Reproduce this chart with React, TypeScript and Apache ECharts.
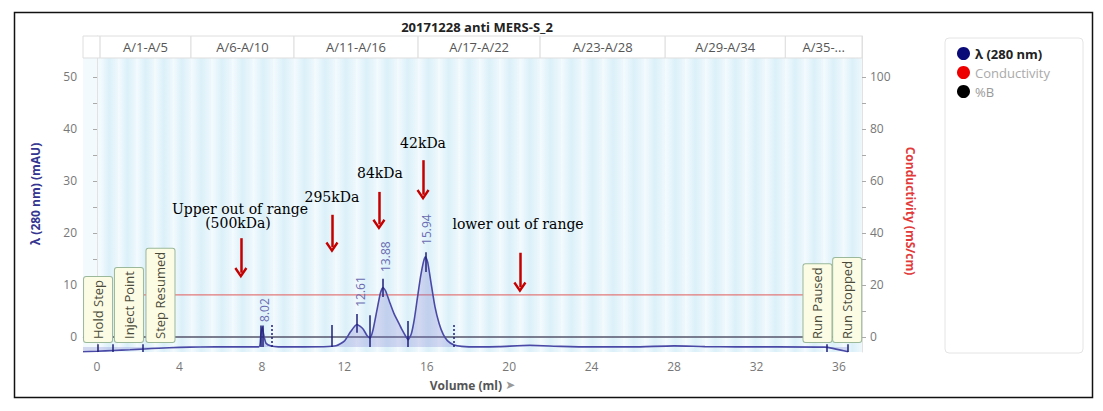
import React, { useEffect, useRef } from 'react';
import * as echarts from 'echarts';

// ---------- axis ticks / labels ----------
const xLabelValues = [0, 4, 8, 12, 16, 20, 24, 28, 32, 36];
const xTickValues = [0, 2, 4, 6, 8, 10, 12, 14, 16, 18, 20, 22, 24, 26, 28, 30, 32, 34, 36];
const uvLabelValues = [0, 10, 20, 30, 40, 50];
const uvTickValues = [0, 5, 10, 15, 20, 25, 30, 35, 40, 45, 50];
const condLabelValues = [0, 20, 40, 60, 80, 100];
const condTickValues = [0, 10, 20, 30, 40, 50, 60, 70, 80, 90, 100];

const X_MIN = -0.68;
const X_MAX = 37.12;
const UV_MIN = -2.885;
const UV_MAX = 57.88;
const COND_MIN = -5.77;
const COND_MAX = 115.76;

// ---------- series data ----------
const uvVolume = [
  -0.68, 0, 0.8, 1.6, 2.3, 3.0, 4.0, 5.0, 6.5, 7.85, 7.95, 8.02, 8.08, 8.2, 8.45, 8.8,
  10.0, 11.0, 11.6, 12.0, 12.3, 12.61, 12.9, 13.1, 13.25, 13.4, 13.6, 13.75, 13.88, 14.0,
  14.2, 14.4, 14.6, 14.8, 15.0, 15.1, 15.25, 15.4, 15.55, 15.7, 15.85, 15.94, 16.05, 16.2,
  16.4, 16.6, 16.8, 17.0, 17.3, 17.7, 18.5, 19.5, 21.0, 22.5, 24.0, 26.0, 28.0, 29.5,
  31.0, 33.0, 35.3, 36.45,
];
const uvValue = [
  -2.85, -2.75, -2.6, -2.45, -2.3, -2.15, -2.0, -1.92, -1.9, -1.9, 0.5, 1.9, 0.6, -1.2, -1.75, -1.9,
  -1.9, -1.88, -1.7, -0.8, 1.0, 2.4, 1.6, 0.3, -0.2, 1.5, 5.5, 8.4, 9.5, 8.9,
  6.7, 4.6, 3.0, 1.4, 0.0, -0.5, 0.6, 3.5, 7.6, 11.6, 14.6, 15.4, 14.3, 10.6,
  5.8, 2.6, 0.5, -0.7, -1.5, -1.8, -1.9, -1.85, -1.6, -1.8, -1.9, -1.9, -1.7, -1.85,
  -1.9, -1.9, -1.95, -2.85,
];
const conductivityVolume = [2.25, 35.4];
const conductivityValue = [16.2, 16.2];
const percentBVolume = [-0.68, 36.45];
const percentBValue = [0, 0];

// ---------- fractions ----------
const fractionGroupLabels = ['', 'A/1-A/5', 'A/6-A/10', 'A/11-A/16', 'A/17-A/22', 'A/23-A/28', 'A/29-A/34', 'A/35-...'];
const fractionGroupEdges = [-0.68, 0.15, 4.56, 9.56, 15.58, 21.5, 27.57, 33.4, 37.12];
const fractionsPerGroup = [0, 5, 5, 6, 6, 6, 6, 4];
const FRACTION_BAR_BOTTOM = 53.65;

// ---------- peaks ----------
const peakNames = ['8.02', '12.61', '13.88', '15.94'];
const peakLabelVolume = [8.15, 12.8, 13.98, 15.98];
const peakLabelBase = [2.9, 5.8, 12.5, 17.7];
const peakTickVolume = [12.61, 13.88, 15.94];
const peakTickLow = [0.8, 7.7, 12.5];
const peakTickHigh = [4.4, 11.2, 16.3];
const boundaryVolume = [7.95, 8.05, 11.4, 13.25, 15.1];
const boundaryTop = [2.2, 2.2, 2.3, 4.2, 3.1];
const dottedBoundaryVolume = [8.5, 17.33];
const dottedBoundaryTop = [2.5, 2.5];

// ---------- run events ----------
const eventNames = ['Hold Step', 'Inject Point', 'Step Resumed', 'Run Paused', 'Run Stopped'];
const eventVolume = [0.05, 0.78, 2.23, 35.4, 36.45];
const eventLabelVolume = [0.05, 1.55, 3.08, 34.96, 36.4];
const EVENT_LABEL_BASE = -0.96;

// ---------- red annotations ----------
const arrowVolume = [6.98, 11.4, 13.68, 15.82, 20.52];
const arrowTop = [19.0, 23.5, 27.9, 34.0, 16.2];
const arrowTip = [11.3, 16.2, 20.6, 26.3, 8.5];
const noteTexts = ['Upper out of range', '(500kDa)', '295kDa', '84kDa', '42kDa', 'lower out of range'];
const noteVolume = [6.94, 6.84, 11.4, 13.73, 15.82, 20.43];
const noteValue = [24.6, 21.9, 26.9, 31.5, 37.3, 21.7];

const FONT = '"Open Sans", "Noto Sans", sans-serif';
const CHEVRON = 'path://M5,0 L10,7.6 L8.5,8.8 L5,3.4 L1.5,8.8 L0,7.6 Z';

function pairs(xs: number[], ys: number[]) {
  return xs.map((x, i) => [x, ys[i]]);
}

function buildOption() {
  const stripes: any[] = [];
  const bar: any[] = [];
  for (let g = 0; g < fractionGroupLabels.length; g++) {
    const a = fractionGroupEdges[g];
    const b = fractionGroupEdges[g + 1];
    bar.push([
      {
        name: fractionGroupLabels[g],
        coord: [a, FRACTION_BAR_BOTTOM],
        itemStyle: { color: '#ffffff', borderColor: '#dedede', borderWidth: 1 },
      },
      { coord: [b, UV_MAX] },
    ]);
    const n = fractionsPerGroup[g];
    if (n === 0) continue;
    const w = (b - a) / n;
    for (let i = 0; i < n; i++) {
      stripes.push([
        {
          coord: [a + i * w, UV_MIN],
          itemStyle: {
            color: {
              type: 'linear', x: 0, y: 0, x2: 1, y2: 0,
              colorStops: [
                { offset: 0, color: '#f4fbfe' },
                { offset: 0.5, color: '#dbf0f9' },
                { offset: 1, color: '#eef8fc' },
              ],
            },
          },
        },
        { coord: [a + (i + 1) * w, FRACTION_BAR_BOTTOM] },
      ]);
    }
  }

  const navy = '#1f1f78';
  const uvMarkLines: any[] = [];
  boundaryVolume.forEach((v, i) =>
    uvMarkLines.push([{ coord: [v, -1.9] }, { coord: [v, boundaryTop[i]] }])
  );
  dottedBoundaryVolume.forEach((v, i) =>
    uvMarkLines.push([
      { coord: [v, -1.9], lineStyle: { type: [2, 2], color: navy, width: 1.5 } },
      { coord: [v, dottedBoundaryTop[i]] },
    ])
  );
  peakTickVolume.forEach((v, i) =>
    uvMarkLines.push([{ coord: [v, peakTickLow[i]] }, { coord: [v, peakTickHigh[i]] }])
  );
  eventVolume.forEach((v) =>
    uvMarkLines.push([{ coord: [v, -1.4] }, { coord: [v, UV_MIN] }])
  );

  const peakPoints = peakNames.map((p, i) => ({
    coord: [peakLabelVolume[i], peakLabelBase[i]],
    value: p,
    label: {
      show: true,
      formatter: p,
      position: [0, 0],
      rotate: 90,
      align: 'left',
      verticalAlign: 'middle',
      color: '#6a6ab0',
      fontSize: 12,
      fontFamily: FONT,
    },
  }));

  const eventPoints = eventNames.map((e, i) => ({
    coord: [eventLabelVolume[i], EVENT_LABEL_BASE],
    value: e,
    label: {
      show: true,
      formatter: e,
      position: [0, 0],
      rotate: 90,
      align: 'left',
      verticalAlign: 'middle',
      color: '#4a4a3a',
      fontSize: 13,
      lineHeight: 18,
      fontFamily: FONT,
      backgroundColor: '#fcfce4',
      borderColor: '#9bb89b',
      borderWidth: 1,
      borderRadius: 2,
      padding: [5, 3, 5, 3],
    },
  }));

  const notePoints = noteTexts.map((t, i) => ({
    coord: [noteVolume[i], noteValue[i]],
    value: t,
    label: {
      show: true,
      formatter: t,
      position: [0, 0],
      align: 'center',
      verticalAlign: 'middle',
      color: '#000',
      fontSize: 14,
      fontFamily: '"DejaVu Serif", serif',
    },
  }));

  const arrowLines = arrowVolume.map((v, i) => [
    { coord: [v, arrowTop[i]], symbol: 'none' },
    { coord: [v, arrowTip[i] + 1.05], symbol: CHEVRON, symbolSize: [13, 11] },
  ]);

  return {
    animation: false,
    textStyle: { fontFamily: FONT },
    grid: {
      left: 83, right: 241, top: 36, bottom: 59,
      containLabel: false,
      outerBoundsMode: 'none',
      show: true,
      backgroundColor: '#f3fafd',
      borderWidth: 0,
    },
    legend: {
      orient: 'vertical',
      left: 952,
      top: 42,
      itemWidth: 13,
      itemHeight: 13,
      itemGap: 6,
      icon: 'circle',
      textStyle: { fontSize: 13, fontFamily: FONT },
      data: [
        { name: 'λ (280 nm)', textStyle: { fontWeight: 'bold', color: '#222' } },
        { name: 'Conductivity', textStyle: { color: '#aaaaaa' } },
        { name: '%B', textStyle: { color: '#999999' } },
      ],
    },
    graphic: [
      {
        type: 'rect',
        z: -10,
        shape: { x: 945, y: 38, width: 138, height: 315, r: 4 },
        style: { fill: '#ffffff', stroke: '#e4e4e4', lineWidth: 1 },
        silent: true,
      },
      {
        type: 'rect',
        shape: { x: 14.5, y: 12.5, width: 1078, height: 385 },
        style: { fill: 'none', stroke: '#111', lineWidth: 1.5 },
        silent: true,
      },
      {
        type: 'text',
        x: 477,
        y: 27,
        style: {
          text: '20171228 anti MERS-S_2',
          align: 'center',
          verticalAlign: 'middle',
          font: 'bold 13px "Open Sans", sans-serif',
          fill: '#222',
        },
        silent: true,
      },
    ],
    xAxis: {
      type: 'value',
      min: X_MIN,
      max: X_MAX,
      name: 'Volume (ml) {a|➤}',
      nameLocation: 'middle',
      nameGap: 27,
      nameTextStyle: {
        color: '#555',
        fontWeight: 'bold',
        fontSize: 12,
        fontFamily: FONT,
        rich: { a: { color: '#999', fontSize: 12, fontFamily: '"DejaVu Sans", sans-serif' } },
      },
      axisLine: { show: true, lineStyle: { color: '#dcdcdc' } },
      axisTick: { show: true, length: 2, customValues: xTickValues, lineStyle: { color: '#b8b8b8', width: 2 } },
      axisLabel: { customValues: xLabelValues, color: '#777', fontSize: 12, margin: 8 },
      splitLine: { show: false },
    },
    yAxis: [
      {
        type: 'value',
        position: 'left',
        min: UV_MIN,
        max: UV_MAX,
        name: 'λ (280 nm) (mAU)',
        nameLocation: 'middle',
        nameRotate: 90,
        nameGap: 42,
        nameTextStyle: { color: '#35358f', fontWeight: 'bold', fontSize: 12, fontFamily: FONT },
        axisLine: { show: true, lineStyle: { color: '#e2e2e2' } },
        axisTick: { show: true, length: 4, customValues: uvTickValues, lineStyle: { color: '#aaa' } },
        axisLabel: { customValues: uvLabelValues, color: '#777', fontSize: 12, margin: 6 },
        splitLine: { show: false },
      },
      {
        type: 'value',
        position: 'right',
        min: COND_MIN,
        max: COND_MAX,
        name: 'Conductivity (mS/cm)',
        nameLocation: 'middle',
        nameRotate: -90,
        nameGap: 42,
        nameTextStyle: { color: '#e23a3a', fontWeight: 'bold', fontSize: 12, fontFamily: FONT, padding: [0, 0, 0, 34] },
        axisLine: { show: true, lineStyle: { color: '#e2e2e2' } },
        axisTick: { show: true, length: 4, customValues: condTickValues, lineStyle: { color: '#aaa' } },
        axisLabel: { customValues: condLabelValues, color: '#777', fontSize: 12, margin: 8 },
        splitLine: { show: false },
      },
    ],
    series: [
      {
        name: 'fractions',
        type: 'line',
        data: [],
        z: 0,
        silent: true,
        markArea: { silent: true, data: stripes, label: { show: false } },
      },
      {
        name: 'fractionBar',
        type: 'line',
        data: [],
        z: 1,
        silent: true,
        markArea: {
          silent: true,
          data: bar,
          label: { show: true, position: 'inside', color: '#555', fontSize: 13, fontFamily: FONT },
        },
      },
      {
        name: '%B',
        type: 'line',
        yAxisIndex: 0,
        data: pairs(percentBVolume, percentBValue),
        symbol: 'none',
        z: 3,
        lineStyle: { color: '#54546a', width: 1.3 },
        itemStyle: { color: '#000000' },
      },
      {
        name: 'Conductivity',
        type: 'line',
        yAxisIndex: 1,
        data: pairs(conductivityVolume, conductivityValue),
        symbol: 'none',
        z: 3,
        lineStyle: { color: '#e27878', width: 1.3 },
        itemStyle: { color: '#ee0000' },
      },
      {
        name: 'λ (280 nm)',
        type: 'line',
        yAxisIndex: 0,
        data: pairs(uvVolume, uvValue),
        symbol: 'none',
        smooth: 0.2,
        z: 4,
        lineStyle: { color: '#4a4aa6', width: 1.6 },
        itemStyle: { color: '#0a0a78' },
        areaStyle: { origin: -1.9, color: 'rgba(120,120,205,0.38)' },
        markLine: {
          silent: true,
          symbol: ['none', 'none'],
          label: { show: false },
          lineStyle: { color: navy, width: 1.5, type: 'solid' },
          data: uvMarkLines,
        },
        markPoint: {
          silent: true,
          symbol: 'circle',
          symbolSize: 0,
          data: peakPoints,
        },
      },
      {
        name: 'annotations',
        type: 'line',
        data: [],
        z: 10,
        silent: true,
        markLine: {
          silent: true,
          label: { show: false },
          lineStyle: { color: '#c40000', width: 2.5, type: 'solid' },
          itemStyle: { color: '#c40000' },
          data: arrowLines,
        },
        markPoint: {
          silent: true,
          symbol: 'circle',
          symbolSize: 0,
          data: [...notePoints, ...eventPoints],
        },
      },
    ],
  };
}

export default function App() {
  const ref = useRef<HTMLDivElement>(null);
  useEffect(() => {
    document.body.style.margin = '0';
    if (!ref.current) return;
    const chart = echarts.init(ref.current, undefined, { renderer: 'svg' });
    chart.setOption(buildOption() as any);
    return () => chart.dispose();
  }, []);
  return <div ref={ref} style={{ width: 1103, height: 411, background: '#fff' }} />;
}
